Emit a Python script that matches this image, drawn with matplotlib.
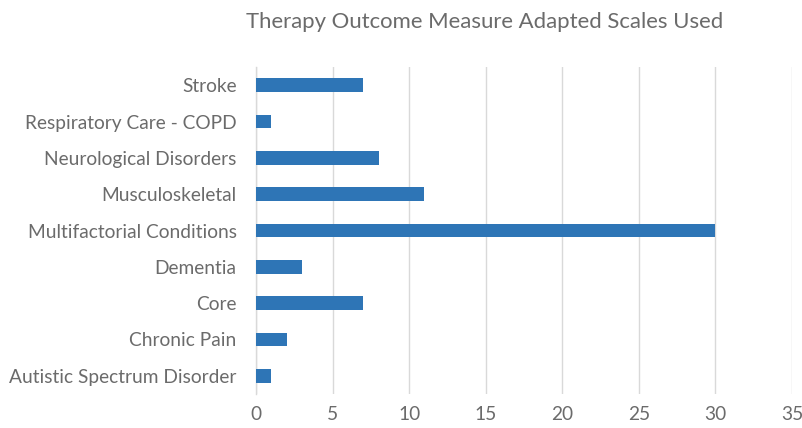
import matplotlib
matplotlib.use("Agg")
import matplotlib.pyplot as plt

categories = ["Autistic Spectrum Disorder", "Chronic Pain", "Core", "Dementia",
              "Multifactorial Conditions", "Musculoskeletal", "Neurological Disorders",
              "Respiratory Care - COPD", "Stroke"]
values = [1, 2, 7, 3, 30, 11, 8, 1, 7]
xticks = [0, 5, 10, 15, 20, 25, 30, 35]

plt.rcParams['font.family'] = ['Lato', 'DejaVu Sans']
gray = '#6B6B6B'

fig = plt.figure(figsize=(8.03, 4.28), dpi=100)
ax = fig.add_axes([256/803, 1-394/428, (792-256)/803, (394-67)/428])
y = range(len(categories))
ax.barh(y, values, height=0.38, color='#2E75B6', zorder=3)
ax.set_xlim(0, 35)
ax.set_ylim(-0.5, len(categories)-0.5)
ax.set_xticks(xticks)
ax.set_yticks(list(y))
ax.set_yticklabels(categories)
ax.tick_params(axis='both', length=0, labelsize=13.8, colors=gray)
ax.tick_params(axis='x', pad=9)
ax.tick_params(axis='y', pad=14)
for s in ['top', 'right', 'bottom']:
    ax.spines[s].set_visible(False)
ax.spines['left'].set_color('#D9D9D9')
ax.spines['left'].set_linewidth(1)
ax.grid(axis='x', color='#D9D9D9', linewidth=1, zorder=0)
ax.set_axisbelow(True)
fig.text(485/803, 1-22/428, "Therapy Outcome Measure Adapted Scales Used",
         ha='center', va='center', fontsize=15.9, color=gray)
fig.savefig("out.png", dpi=100)
